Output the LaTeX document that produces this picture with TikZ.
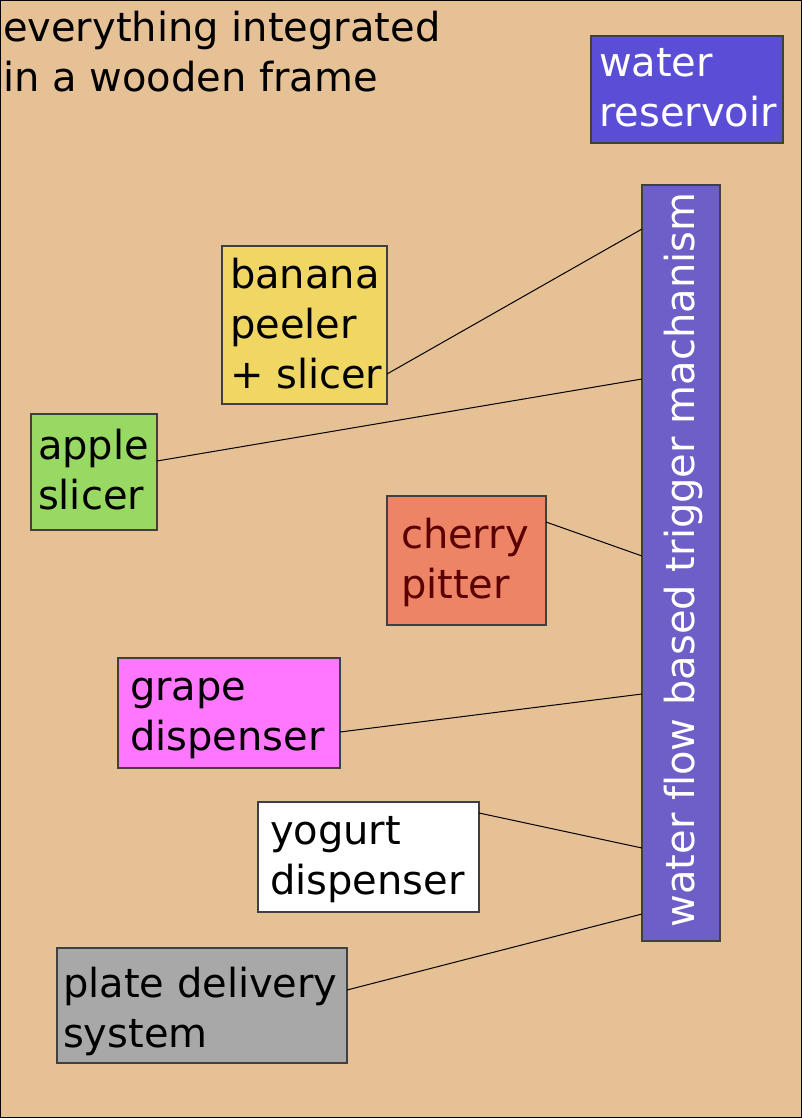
\documentclass[tikz,border=0pt]{standalone}
\usepackage{fontspec}
\setmainfont[Ligatures=NoCommon]{DejaVu Sans}
\definecolor{bgwood}{HTML}{E6C196}
\definecolor{resv}{HTML}{5B4ED6}
\definecolor{trigc}{HTML}{6E5EC8}
\definecolor{banc}{HTML}{F0D662}
\definecolor{appc}{HTML}{97D962}
\definecolor{cherc}{HTML}{EE8466}
\definecolor{chertxt}{HTML}{5A0000}
\definecolor{grapc}{HTML}{FF77FF}
\definecolor{platc}{HTML}{A8A8A8}
\newcommand\mlines[1]{\vtop{\baselineskip=50pt\lineskiplimit=-200pt #1}}
\begin{document}
\begin{tikzpicture}[x=1pt,y=-1pt,
  every node/.style={font=\fontsize{40}{50}\selectfont},
  boxn/.style={draw=black!75, line width=1.2pt, rectangle, inner sep=0pt, outer sep=0pt, anchor=north west},
  txt/.style={inner sep=0pt, outer sep=0pt, anchor=base west},
  conn/.style={draw=black, line width=1pt}]
\useasboundingbox (0,0) rectangle (802,1118);
\draw[fill=bgwood, line width=1pt] (0.5,0.5) rectangle (801.5,1117.5);

% title
\node[txt] (title) at (3,42) {\mlines{\hbox{everything integrated}\hbox{in a wooden frame}}};

% boxes
\node[boxn, fill=resv, minimum width=192pt, minimum height=107pt] (resv) at (591,36) {};
\node[boxn, fill=trigc, minimum width=78pt, minimum height=756pt] (trig) at (642,185) {};
\node[boxn, fill=banc, minimum width=165pt, minimum height=158pt] (banana) at (222,246) {};
\node[boxn, fill=appc, minimum width=126pt, minimum height=116pt] (apple) at (31,414) {};
\node[boxn, fill=cherc, minimum width=159pt, minimum height=129pt] (cherry) at (387,496) {};
\node[boxn, fill=grapc, minimum width=222pt, minimum height=110pt] (grape) at (118,658) {};
\node[boxn, fill=white, minimum width=221pt, minimum height=110pt] (yogurt) at (258,802) {};
\node[boxn, fill=platc, minimum width=290pt, minimum height=115pt] (plate) at (57,948) {};

% texts
\node[txt, text=white] (tresv) at (599,77) {\mlines{\hbox{water}\hbox{reservoir}}};
\node[inner sep=0pt, outer sep=0pt, anchor=base, rotate=90, text=white] (ttrig) at ([xshift=13pt,yshift=3pt]trig.center) {water flow based trigger machanism};
\node[txt] (tbanana) at (230,288) {\mlines{\hbox{banana}\hbox{peeler}\hbox{+ slicer}}};
\node[txt] (tapple) at (38,459) {\mlines{\hbox{apple}\hbox{slicer}}};
\node[txt, text=chertxt] (tcherry) at (401,548) {\mlines{\hbox{cherry}\hbox{pitter}}};
\node[txt] (tgrape) at (130,700) {\mlines{\hbox{grape}\hbox{dispenser}}};
\node[txt] (tyogurt) at (270,844) {\mlines{\hbox{yogurt}\hbox{dispenser}}};
\node[txt] (tplate) at (63,997) {\mlines{\hbox{plate delivery}\hbox{system}}};

% connectors
\draw[conn] ([yshift=-49pt]banana.east) -- ([yshift=334pt]trig.west);
\draw[conn] ([yshift=11pt]apple.east) -- ([yshift=184pt]trig.west);
\draw[conn] ([yshift=38.5pt]cherry.east) -- ([yshift=7pt]trig.west);
\draw[conn] ([yshift=-19pt]grape.east) -- ([yshift=-131pt]trig.west);
\draw[conn] ([yshift=44pt]yogurt.east) -- ([yshift=-285pt]trig.west);
\draw[conn] ([yshift=15.5pt]plate.east) -- ([yshift=-351pt]trig.west);
\end{tikzpicture}
\end{document}
